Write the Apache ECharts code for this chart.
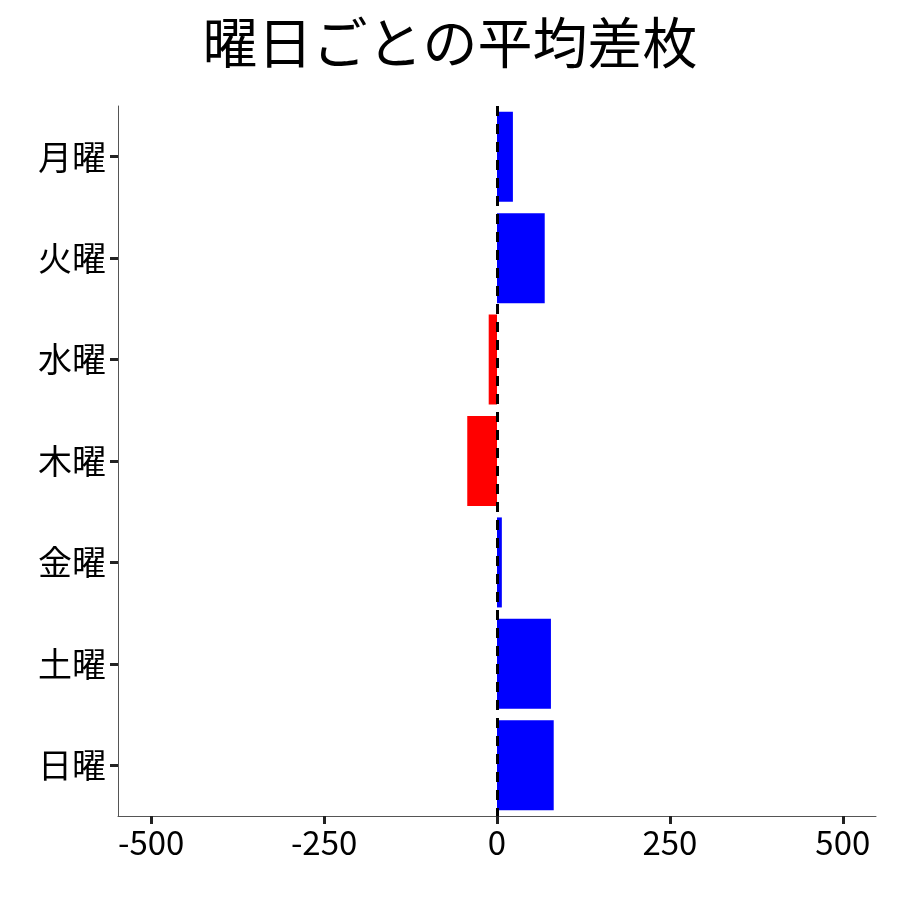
<!DOCTYPE html>
<html><head><meta charset="utf-8">
<script src="https://cdn.jsdelivr.net/npm/echarts@6/dist/echarts.min.js"></script>
</head><body style="margin:0">
<div id="c" style="width:900px;height:900px"></div>
<script>
const categories = ['月曜','火曜','水曜','木曜','金曜','土曜','日曜'];
const values = [23, 69, -12, -43, 7, 78, 82];
const xTicks = [-500, -250, 0, 250, 500];
const font = '"Noto Sans CJK JP", sans-serif';
const chart = echarts.init(document.getElementById('c'));
chart.setOption({
  title: {text: '曜日ごとの平均差枚', left: 'center', top: 10,
    textStyle: {fontFamily: font, fontSize: 55, fontWeight: 'normal', color: '#000'}},
  grid: {left: 118, right: 24, top: 106, bottom: 84},
  xAxis: {type: 'value', min: -548, max: 548,
    axisLine: {show: true, onZero: false, lineStyle: {color: '#555', width: 1}},
    axisTick: {show: true, customValues: xTicks, length: 8, lineStyle: {color: '#222', width: 3}},
    axisLabel: {customValues: xTicks, fontFamily: font, fontSize: 33, color: '#000', margin: 10},
    splitLine: {show: false}},
  yAxis: {type: 'category', inverse: true, data: categories,
    axisLine: {show: true, onZero: false, lineStyle: {color: '#555', width: 1}},
    axisTick: {show: true, alignWithLabel: true, length: 8, lineStyle: {color: '#222', width: 3}},
    axisLabel: {fontFamily: font, fontSize: 34, color: '#000', margin: 12}},
  series: [{type: 'bar', barWidth: 90,
    data: values.map(v => ({value: v, itemStyle: {color: v >= 0 ? '#0000ff' : '#ff0000'}})),
    markLine: {symbol: 'none', silent: true, label: {show: false},
      lineStyle: {color: '#000', type: [10, 8], width: 3},
      data: [{xAxis: 0}]}
  }]
});
</script></body></html>
